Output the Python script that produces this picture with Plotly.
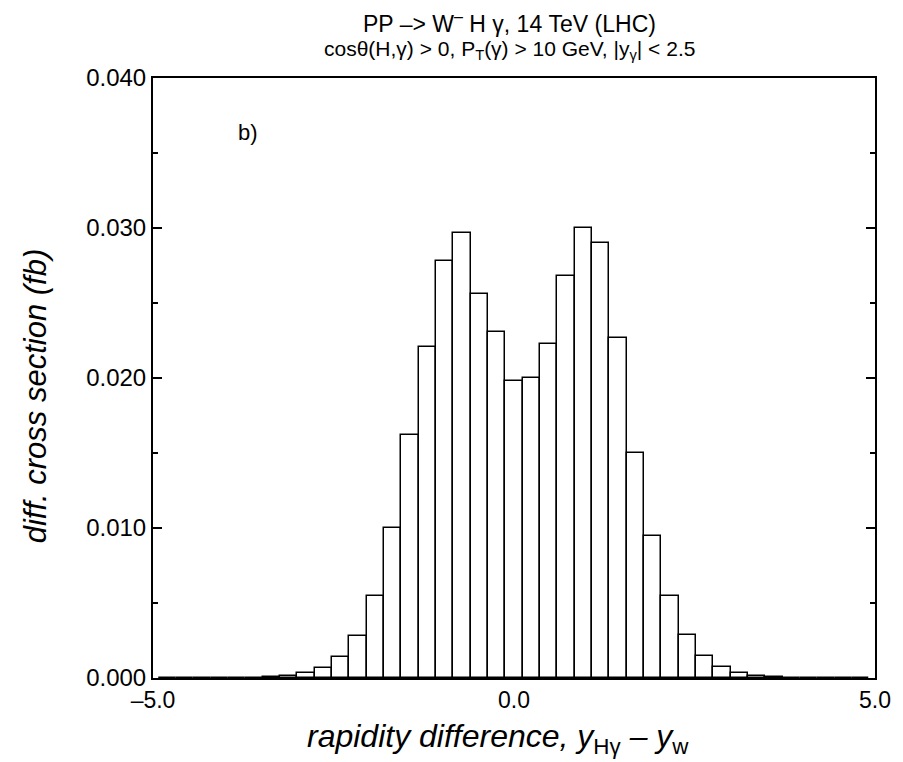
import plotly.graph_objects as go

# bin centres: width 0.24, centred on multiples of 0.24, j = -20..20
bin_index = list(range(-20, 21))
bin_width = 0.24
values = [
    0, 0, 0, 0, 0,                      # -20..-16
    0.00002, 0.00007, 0.00015, 0.00034, 0.00067,   # -15..-11
    0.00142, 0.00282, 0.00547, 0.0100, 0.0162,     # -10..-6
    0.0221, 0.0278, 0.0297, 0.0256, 0.0231,        # -5..-1
    0.0198,                                         # 0
    0.0200, 0.0223, 0.0268, 0.0300, 0.0290,        # 1..5
    0.0227, 0.0150, 0.0095, 0.0055, 0.0029,        # 6..10
    0.00147, 0.00072, 0.00031, 0.00016, 0.00008,   # 11..15
    0.00002, 0, 0, 0, 0,                           # 16..20
]
centers = [j * bin_width for j in bin_index]

y_ticks = [0.0, 0.01, 0.02, 0.03, 0.04]
y_tick_text = ["0.000", "0.010", "0.020", "0.030", "0.040"]
x_ticks = [-5, 0, 5]
x_tick_text = ["\u20135.0", "0.0", "5.0"]

FONT = "Liberation Sans, Arial, Helvetica, sans-serif"

fig = go.Figure()
fig.add_trace(go.Bar(
    x=centers, y=values, width=[bin_width] * len(centers),
    marker=dict(color="white", line=dict(color="black", width=1.5)),
    hoverinfo="x+y",
))

fig.update_layout(
    width=903, height=762,
    margin=dict(l=153, r=23, t=78, b=84),
    paper_bgcolor="white", plot_bgcolor="white",
    showlegend=False, bargap=0,
    font=dict(family=FONT, color="black"),
)
fig.update_xaxes(
    range=[-5, 5], tickvals=x_ticks, ticktext=x_tick_text,
    tickfont=dict(size=23), ticks="", showgrid=False, zeroline=False,
    showline=True, linecolor="black", linewidth=2, mirror=True,
)
fig.update_yaxes(
    range=[0, 0.04], tickvals=y_ticks, ticktext=y_tick_text,
    tickfont=dict(size=24), ticks="inside", ticklen=9, tickwidth=1.5,
    tickcolor="black", showgrid=False, zeroline=False,
    showline=True, linecolor="black", linewidth=2, mirror="ticks",
    minor=dict(ticks="inside", ticklen=5, tickwidth=1.5, tickcolor="black", dtick=0.005),
)

ann = [
    dict(text="PP \u2013> W<sup>\u2013</sup> H \u03b3, 14 TeV (LHC)",
         x=0.494, y=1.093, xref="paper", yref="paper", showarrow=False,
         font=dict(size=23), xanchor="center", yanchor="middle"),
    dict(text="cos\u03b8(H,\u03b3) &gt; 0, P<sub>T</sub>(\u03b3) &gt; 10 GeV, |y<sub>\u03b3</sub>| &lt; 2.5",
         x=0.494, y=1.047, xref="paper", yref="paper", showarrow=False,
         font=dict(size=21), xanchor="center", yanchor="middle"),
    dict(text="b)", x=-3.68, y=0.0364, xref="x", yref="y", showarrow=False,
         font=dict(size=22), xanchor="center", yanchor="middle"),
    dict(text="<i>rapidity difference, y</i><sub>H\u03b3</sub><i> \u2013 y</i><sub>w</sub>",
         x=0.478, y=-0.1, xref="paper", yref="paper", showarrow=False,
         font=dict(size=32), xanchor="center", yanchor="middle"),
    dict(text="<i>diff. cross section (fb)</i>",
         x=-0.163, y=0.47, xref="paper", yref="paper", showarrow=False,
         font=dict(size=31), xanchor="center", yanchor="middle", textangle=-90),
]
fig.update_layout(annotations=ann)

fig.write_html("out.html")
